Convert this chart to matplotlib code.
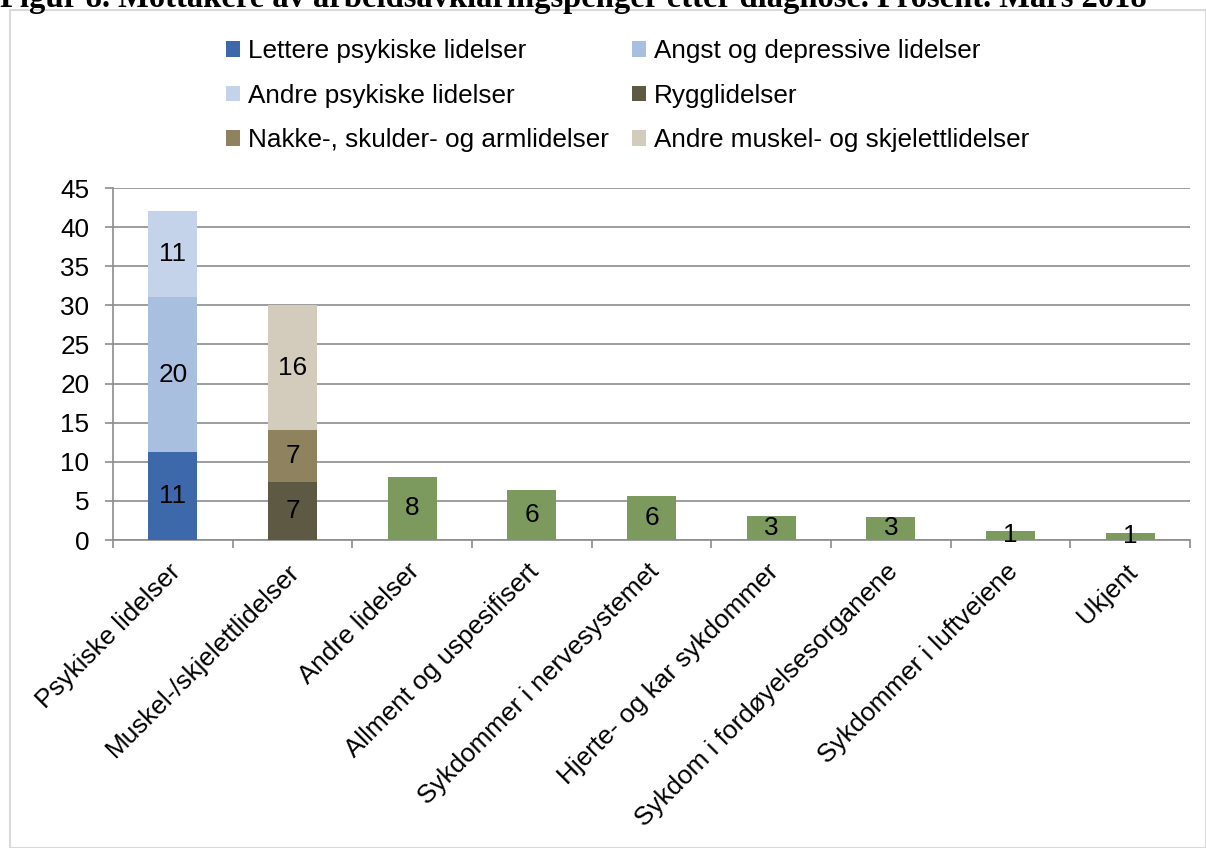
import matplotlib.pyplot as plt
import matplotlib.transforms as mtransforms
import numpy as np
from matplotlib.patches import Rectangle, Patch

plt.rcParams['font.family'] = ['Liberation Sans', 'DejaVu Sans']

# Data
kategorier = ['Psykiske lidelser', 'Muskel-/skjelettlidelser', 'Andre lidelser',
              'Allment og uspesifisert', 'Sykdommer i nervesystemet',
              'Hjerte- og kar sykdommer', 'Sykdom i fordøyelsesorganene',
              'Sykdommer i luftveiene', 'Ukjent']

lettere_psyk = [11.2, 0, 0, 0, 0, 0, 0, 0, 0]
angst_depr = [19.9, 0, 0, 0, 0, 0, 0, 0, 0]
andre_psyk = [11.0, 0, 0, 0, 0, 0, 0, 0, 0]
rygg = [0, 7.4, 0, 0, 0, 0, 0, 0, 0]
nakke = [0, 6.7, 0, 0, 0, 0, 0, 0, 0]
andre_muskel = [0, 15.9, 0, 0, 0, 0, 0, 0, 0]
ovrige = [0, 0, 8.1, 6.4, 5.6, 3.1, 3.0, 1.2, 0.9]

serier = [
    ('Lettere psykiske lidelser', lettere_psyk, '#3D69AA'),
    ('Angst og depressive lidelser', angst_depr, '#A9BFDF'),
    ('Andre psykiske lidelser', andre_psyk, '#C5D3EA'),
    ('Rygglidelser', rygg, '#5E5943'),
    ('Nakke-, skulder- og armlidelser', nakke, '#8E825F'),
    ('Andre muskel- og skjelettlidelser', andre_muskel, '#D3CCBC'),
    (None, ovrige, '#7D9A5E'),
]

FS = 18.8

fig = plt.figure(figsize=(12.06, 8.48), dpi=100)
ax = fig.add_axes([113 / 1206, 1 - 540 / 848, (1190 - 113) / 1206, (540 - 188) / 848])

x = np.arange(len(kategorier))
bunn = np.zeros(len(kategorier))
handles = []
for navn, verdier, farge in serier:
    v = np.array(verdier, dtype=float)
    ax.bar(x, v, width=0.41, bottom=bunn, color=farge, zorder=3)
    for xi, vi, bi in zip(x, v, bunn):
        if vi > 0:
            ax.text(xi, bi + vi / 2, f'{vi:.0f}', ha='center', va='center',
                    fontsize=FS, color='black', zorder=4)
    bunn += v
    if navn:
        handles.append(Patch(facecolor=farge, label=navn))

ax.set_xlim(-0.5, len(kategorier) - 0.5)
ax.set_ylim(0, 45)
ax.set_yticks(range(0, 46, 5))
ax.yaxis.grid(True, color='#8C8C8C', linewidth=1.2, zorder=0)
ax.set_axisbelow(True)
for s in ['top', 'right']:
    ax.spines[s].set_visible(False)
for s in ['left', 'bottom']:
    ax.spines[s].set_color('#8C8C8C')
    ax.spines[s].set_linewidth(1.2)

ax.set_xticks(np.arange(-0.5, len(kategorier), 1), minor=False)
ax.set_xticklabels([])
ax.set_xticks(x, minor=True)
ax.set_xticklabels(kategorier, minor=True, rotation=45, ha='right',
                   rotation_mode='anchor', fontsize=FS)
ax.tick_params(axis='x', which='minor', length=0, pad=14)
ax.tick_params(axis='x', which='major', length=6, color='#8C8C8C', width=1.2)
ax.tick_params(axis='y', length=6, color='#8C8C8C', width=1.2, labelsize=FS, pad=11)
forskyv = mtransforms.ScaledTranslation(-5 / 100, 0, fig.dpi_scale_trans)
for lbl in ax.get_xticklabels(minor=True):
    lbl.set_transform(lbl.get_transform() + forskyv)

# legend, row order
rekkefolge = [0, 2, 4, 1, 3, 5]
fig.legend([handles[i] for i in rekkefolge], [handles[i].get_label() for i in rekkefolge],
           ncol=2, loc='upper left', bbox_to_anchor=(213 / 1206, 1 - 26 / 848),
           frameon=False, fontsize=FS, handlelength=0.54, handleheight=0.54,
           handletextpad=0.3, columnspacing=0.9, labelspacing=0.79, borderpad=0)

# ramme
fig.patches.append(Rectangle((10 / 1206, 0), 1 - 10 / 1206, 1 - 10 / 848,
                             transform=fig.transFigure, fill=False,
                             edgecolor='#D9D9D9', linewidth=1.5))

fig.text(0.0, 1 - 7 / 848,
         'Figur 8. Mottakere av arbeidsavklaringspenger etter diagnose. Prosent. Mars 2018',
         ha='left', va='baseline', fontsize=23.5, fontweight='bold',
         family=['Liberation Serif', 'DejaVu Serif'])

fig.savefig('out.png', dpi=100)
